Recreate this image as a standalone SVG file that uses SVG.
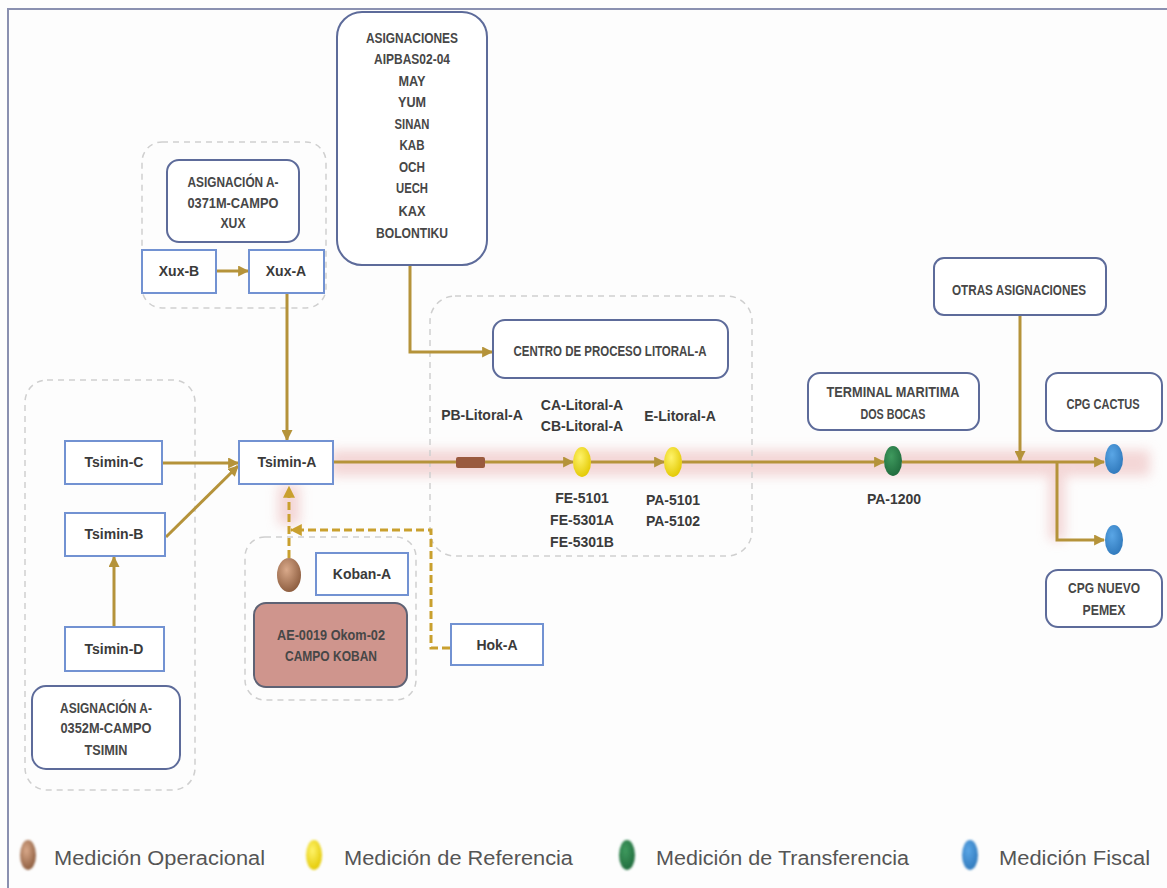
<svg xmlns="http://www.w3.org/2000/svg" width="1167" height="888" viewBox="0 0 1167 888">
<style>
.frame{fill:none;stroke:#8a90b0;stroke-width:2}
.grp{fill:none;stroke:#cfcfcf;stroke-width:1.5;stroke-dasharray:6 5}
.node{fill:#fff;stroke:#7292d2;stroke-width:2}
.lbl{fill:#fff;stroke:#5d6b9a;stroke-width:2}
.t{font-family:"Liberation Sans",Arial,sans-serif;font-weight:bold;font-size:14px;fill:#3a3a3a;text-anchor:middle}
.c{font-family:"Liberation Sans",Arial,sans-serif;font-weight:bold;font-size:14px;fill:#474747;text-anchor:middle}
.lg{font-family:"Liberation Sans",Arial,sans-serif;font-size:20px;fill:#555}
.con{fill:none;stroke:#b5933a;stroke-width:3}
.dash{fill:none;stroke:#c9a02e;stroke-width:3;stroke-dasharray:8 4}
</style>
<defs>
<marker id="ah" viewBox="0 0 10 10" refX="9" refY="5" markerWidth="11" markerHeight="11" markerUnits="userSpaceOnUse" orient="auto">
<path d="M0,0 L10,5 L0,10 Z" fill="#b5933a"/>
</marker>
<marker id="ahd" viewBox="0 0 10 10" refX="9" refY="5" markerWidth="12" markerHeight="12" markerUnits="userSpaceOnUse" orient="auto">
<path d="M0,0 L10,5 L0,10 Z" fill="#c9a02e"/>
</marker>
<filter id="blur" x="-20%" y="-200%" width="140%" height="500%"><feGaussianBlur stdDeviation="6"/></filter>
<filter id="soft" x="-50%" y="-50%" width="200%" height="200%"><feGaussianBlur stdDeviation="1"/></filter>
<radialGradient id="gBrown" cx="40%" cy="35%" r="70%"><stop offset="0" stop-color="#d9a98a"/><stop offset="1" stop-color="#8a5a3c"/></radialGradient>
<radialGradient id="gYellow" cx="40%" cy="35%" r="70%"><stop offset="0" stop-color="#fff36a"/><stop offset="1" stop-color="#e2c800"/></radialGradient>
<radialGradient id="gGreen" cx="40%" cy="35%" r="70%"><stop offset="0" stop-color="#3f9a5e"/><stop offset="1" stop-color="#1f6a3c"/></radialGradient>
<radialGradient id="gBlue" cx="40%" cy="35%" r="70%"><stop offset="0" stop-color="#5aa6e6"/><stop offset="1" stop-color="#2f78bb"/></radialGradient>
</defs>
<rect x="0" y="0" width="1167" height="888" fill="#fdfdfd"/>
<path class="frame" d="M8,890 V9 H1170"/>

<!-- glow -->
<g id="glow" opacity="0.5" filter="url(#blur)">
<line x1="330" y1="463" x2="1150" y2="463" stroke="#eab0b0" stroke-width="26"/>
<line x1="289" y1="485" x2="289" y2="525" stroke="#eab0b0" stroke-width="22"/>
<line x1="1057" y1="463" x2="1057" y2="540" stroke="#eab0b0" stroke-width="16"/>
</g>

<!-- dashed groups -->
<g id="groups">
<rect class="grp" x="142" y="142" width="184" height="166" rx="20"/>
<rect class="grp" x="25" y="380" width="170" height="410" rx="22"/>
<rect class="grp" x="245" y="537" width="171" height="163" rx="20"/>
<rect class="grp" x="430" y="296" width="322" height="260" rx="25"/>
</g>

<!-- connectors -->
<g id="connectors">
<line class="con" x1="216" y1="271" x2="248" y2="271" marker-end="url(#ah)"/>
<line class="con" x1="287" y1="293" x2="287" y2="440" marker-end="url(#ah)"/>
<polyline class="con" points="410,265 410,352 492,352" marker-end="url(#ah)"/>
<line class="con" x1="162" y1="463" x2="238" y2="463" marker-end="url(#ah)"/>
<line class="con" x1="166" y1="537" x2="238" y2="466" marker-end="url(#ah)"/>
<line class="con" x1="114" y1="627" x2="114" y2="557" marker-end="url(#ah)"/>
<line class="con" x1="333" y1="462" x2="573" y2="462" marker-end="url(#ah)"/>
<line class="con" x1="591" y1="462" x2="664" y2="462" marker-end="url(#ah)"/>
<line class="con" x1="682" y1="462" x2="884" y2="462" marker-end="url(#ah)"/>
<line class="con" x1="902" y1="462" x2="1104" y2="462" marker-end="url(#ah)"/>
<line class="con" x1="1020" y1="315" x2="1020" y2="461" marker-end="url(#ah)"/>
<polyline class="con" points="1057,462 1057,540 1104,540" marker-end="url(#ah)"/>
<line class="dash" x1="289" y1="558" x2="289" y2="487" marker-end="url(#ahd)"/>
<polyline class="dash" points="450,648 431,648 431,530 291,530" marker-end="url(#ahd)"/>
<rect x="456" y="457" width="29" height="11" rx="2" fill="#9a5a3e"/>
</g>

<!-- nodes -->
<g id="asignaciones">
<rect class="lbl" x="337" y="12" width="150" height="253" rx="25"/>
<text class="c" x="412" y="43" textLength="92" lengthAdjust="spacingAndGlyphs">ASIGNACIONES</text>
<text class="c" x="412" y="64" textLength="76" lengthAdjust="spacingAndGlyphs">AIPBAS02-04</text>
<text class="c" x="412" y="86" textLength="27" lengthAdjust="spacingAndGlyphs">MAY</text>
<text class="c" x="412" y="107" textLength="28" lengthAdjust="spacingAndGlyphs">YUM</text>
<text class="c" x="412" y="129" textLength="35" lengthAdjust="spacingAndGlyphs">SINAN</text>
<text class="c" x="412" y="150" textLength="25" lengthAdjust="spacingAndGlyphs">KAB</text>
<text class="c" x="412" y="172" textLength="26" lengthAdjust="spacingAndGlyphs">OCH</text>
<text class="c" x="412" y="193" textLength="32" lengthAdjust="spacingAndGlyphs">UECH</text>
<text class="c" x="412" y="216" textLength="27" lengthAdjust="spacingAndGlyphs">KAX</text>
<text class="c" x="412" y="238" textLength="72" lengthAdjust="spacingAndGlyphs">BOLONTIKU</text>
</g>
<g id="asig-xux">
<rect class="lbl" x="167" y="160" width="132" height="82" rx="12"/>
<text class="c" x="233" y="187" textLength="91" lengthAdjust="spacingAndGlyphs">ASIGNACIÓN A-</text>
<text class="c" x="233" y="208" textLength="91" lengthAdjust="spacingAndGlyphs">0371M-CAMPO</text>
<text class="c" x="233" y="228" textLength="25" lengthAdjust="spacingAndGlyphs">XUX</text>
</g>
<g id="xux-b"><rect class="node" x="142" y="250" width="74" height="43"/><text class="t" x="179" y="276">Xux-B</text></g>
<g id="xux-a"><rect class="node" x="249" y="250" width="75" height="43"/><text class="t" x="286" y="276">Xux-A</text></g>
<g id="tsimin-a"><rect class="node" x="239" y="441" width="94" height="43"/><text class="t" x="287" y="467">Tsimin-A</text></g>
<g id="tsimin-c"><rect class="node" x="65" y="441" width="97" height="43"/><text class="t" x="114" y="467">Tsimin-C</text></g>
<g id="tsimin-b"><rect class="node" x="65" y="513" width="100" height="43"/><text class="t" x="114" y="539">Tsimin-B</text></g>
<g id="tsimin-d"><rect class="node" x="65" y="627" width="99" height="44"/><text class="t" x="114" y="654">Tsimin-D</text></g>
<g id="asig-tsimin">
<rect class="lbl" x="32" y="686" width="148" height="83" rx="14"/>
<text class="c" x="106" y="713" textLength="92" lengthAdjust="spacingAndGlyphs">ASIGNACIÓN A-</text>
<text class="c" x="106" y="733" textLength="91" lengthAdjust="spacingAndGlyphs">0352M-CAMPO</text>
<text class="c" x="106" y="755" textLength="43" lengthAdjust="spacingAndGlyphs">TSIMIN</text>
</g>
<g id="koban-meter"><ellipse cx="289" cy="575" rx="12" ry="17" fill="url(#gBrown)"/></g>
<g id="koban-a"><rect class="node" x="316" y="553" width="92" height="42"/><text class="t" x="362" y="579">Koban-A</text></g>
<g id="campo-koban">
<rect x="254" y="603" width="153" height="84" rx="12" fill="#cf958d" stroke="#5e6274" stroke-width="2"/>
<text class="c" x="331" y="640" textLength="108" lengthAdjust="spacingAndGlyphs" fill="#4a3a38">AE-0019 Okom-02</text>
<text class="c" x="331" y="661" textLength="92" lengthAdjust="spacingAndGlyphs">CAMPO KOBAN</text>
</g>
<g id="hok-a"><rect class="node" x="451" y="624" width="92" height="41"/><text class="t" x="497" y="650">Hok-A</text></g>
<g id="centro">
<rect class="lbl" x="493" y="320" width="235" height="58" rx="12"/>
<text class="c" x="610" y="356" textLength="193" lengthAdjust="spacingAndGlyphs">CENTRO DE PROCESO LITORAL-A</text>
</g>
<g id="pb-litoral"><text class="t" x="482" y="420">PB-Litoral-A</text></g>
<g id="meter-ca">
<text class="t" x="582" y="410">CA-Litoral-A</text>
<text class="t" x="582" y="431">CB-Litoral-A</text>
<ellipse cx="582" cy="462" rx="9" ry="15" fill="url(#gYellow)"/>
<text class="t" x="582" y="503">FE-5101</text>
<text class="t" x="582" y="525">FE-5301A</text>
<text class="t" x="582" y="547">FE-5301B</text>
</g>
<g id="meter-e">
<text class="t" x="680" y="421">E-Litoral-A</text>
<ellipse cx="673" cy="462" rx="9" ry="15" fill="url(#gYellow)"/>
<text class="t" x="673" y="505">PA-5101</text>
<text class="t" x="673" y="526">PA-5102</text>
</g>
<g id="terminal">
<rect class="lbl" x="808" y="373" width="171" height="57" rx="12"/>
<text class="c" x="893" y="397" textLength="133" lengthAdjust="spacingAndGlyphs">TERMINAL MARITIMA</text>
<text class="c" x="893" y="419" textLength="65" lengthAdjust="spacingAndGlyphs">DOS BOCAS</text>
</g>
<g id="meter-pa1200">
<ellipse cx="893" cy="461" rx="9" ry="15" fill="url(#gGreen)"/>
<text class="t" x="894" y="504">PA-1200</text>
</g>
<g id="otras">
<rect class="lbl" x="934" y="258" width="172" height="57" rx="10"/>
<text class="c" x="1019" y="295" textLength="134" lengthAdjust="spacingAndGlyphs">OTRAS ASIGNACIONES</text>
</g>
<g id="cpg-cactus">
<rect class="lbl" x="1046" y="373" width="116" height="58" rx="12"/>
<text class="c" x="1103" y="409" textLength="73" lengthAdjust="spacingAndGlyphs">CPG CACTUS</text>
<ellipse cx="1114" cy="459" rx="9" ry="15" fill="url(#gBlue)"/>
</g>
<g id="cpg-pemex">
<ellipse cx="1114" cy="540" rx="9" ry="15" fill="url(#gBlue)"/>
<rect class="lbl" x="1046" y="570" width="116" height="57" rx="12"/>
<text class="c" x="1104" y="593" textLength="72" lengthAdjust="spacingAndGlyphs">CPG NUEVO</text>
<text class="c" x="1104" y="615" textLength="43" lengthAdjust="spacingAndGlyphs">PEMEX</text>
</g>

<!-- legend -->
<g id="legend">
<ellipse cx="28" cy="855" rx="8" ry="15" fill="url(#gBrown)" filter="url(#soft)"/>
<text class="lg" x="54" y="865" textLength="211" lengthAdjust="spacingAndGlyphs">Medición Operacional</text>
<ellipse cx="314" cy="855" rx="8" ry="15" fill="url(#gYellow)" filter="url(#soft)"/>
<text class="lg" x="344" y="865" textLength="229" lengthAdjust="spacingAndGlyphs">Medición de Referencia</text>
<ellipse cx="627" cy="855" rx="8" ry="15" fill="url(#gGreen)" filter="url(#soft)"/>
<text class="lg" x="656" y="865" textLength="253" lengthAdjust="spacingAndGlyphs">Medición de Transferencia</text>
<ellipse cx="970" cy="855" rx="8" ry="15" fill="url(#gBlue)" filter="url(#soft)"/>
<text class="lg" x="999" y="865" textLength="151" lengthAdjust="spacingAndGlyphs">Medición Fiscal</text>
</g>
</svg>
